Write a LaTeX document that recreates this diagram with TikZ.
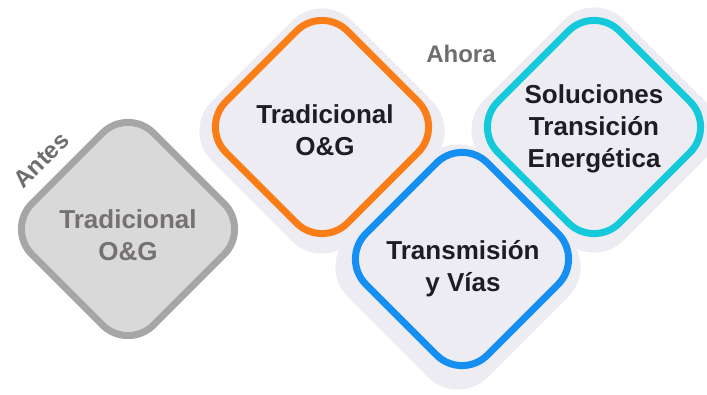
\documentclass[tikz,border=0pt]{standalone}
\usepackage{fontspec}
\setmainfont{Liberation Sans}
\usepackage{tikz}

\definecolor{tileink}{HTML}{1D1D24}
\definecolor{oldink}{HTML}{767171}
\definecolor{stageink}{HTML}{6E6E6E}
\definecolor{oldline}{HTML}{A6A6A6}
\definecolor{oldfill}{HTML}{D9D9D9}
\definecolor{tilefill}{HTML}{EDECF3}
\definecolor{ogorange}{HTML}{FB7D18}
\definecolor{transblue}{HTML}{168FF2}
\definecolor{energycyan}{HTML}{13C9DA}

\begin{document}
\begin{tikzpicture}[x=1pt, y=-1pt,
    tile/.style={line width=7pt, rounded corners=36pt, fill=tilefill},
    halo/.style={fill=tilefill, rounded corners=42pt},
    tiletext/.style={font=\bfseries\fontsize{26}{32}\selectfont, align=center, text=tileink, inner sep=0pt},
    stagetext/.style={font=\bfseries\fontsize{24}{28}\selectfont, text=stageink, inner sep=0pt}]
    \useasboundingbox (0,0) rectangle (707,394);

    % Centres of the four tiles
    \coordinate (cOld) at (128,229);
    \coordinate (cOG) at (322,127);
    \coordinate (cTrans) at (462,259);
    \coordinate (cEnergy) at (594,127);

    % Draw the soft halos behind the new tiles
    \path[halo] (cOG) ++(0,4) ++(-140,0) -- ++(140,-140) -- ++(140,140) -- ++(-140,140) -- cycle;
    \path[halo] (cTrans) ++(-4,8) ++(-140,0) -- ++(140,-140) -- ++(140,140) -- ++(-140,140) -- cycle;
    \path[halo] (cEnergy) ++(0,3) ++(-140,0) -- ++(140,-140) -- ++(140,140) -- ++(-140,140) -- cycle;

    % Draw the old tile
    \draw[tile, draw=oldline, fill=oldfill] (cOld) ++(-121.5,0) -- ++(121.5,-121.5) -- ++(121.5,121.5) -- ++(-121.5,121.5) -- cycle;

    % Draw the new tiles
    \draw[tile, draw=ogorange] (cOG) ++(-121.5,0) -- ++(121.5,-121.5) -- ++(121.5,121.5) -- ++(-121.5,121.5) -- cycle;
    \draw[tile, draw=transblue] (cTrans) ++(-121.5,0) -- ++(121.5,-121.5) -- ++(121.5,121.5) -- ++(-121.5,121.5) -- cycle;
    \draw[tile, draw=energycyan] (cEnergy) ++(-121.5,0) -- ++(121.5,-121.5) -- ++(121.5,121.5) -- ++(-121.5,121.5) -- cycle;

    % Add labels
    \node[tiletext, text=oldink] (oldOG) at (128,235) {Tradicional\\O\&G};
    \node[tiletext] (newOG) at (325,130) {Tradicional\\O\&G};
    \node[tiletext] (trans) at (463,269) {Transmisión\\y Vías};
    \node[tiletext] (energy) at (594,129) {Soluciones\\Transición\\Energética};
    \node[stagetext, anchor=base] (ahora) at (461,62) {Ahora};
    \node[stagetext, anchor=base, rotate=45] (antes) at (47,166) {Antes};
\end{tikzpicture}
\end{document}
